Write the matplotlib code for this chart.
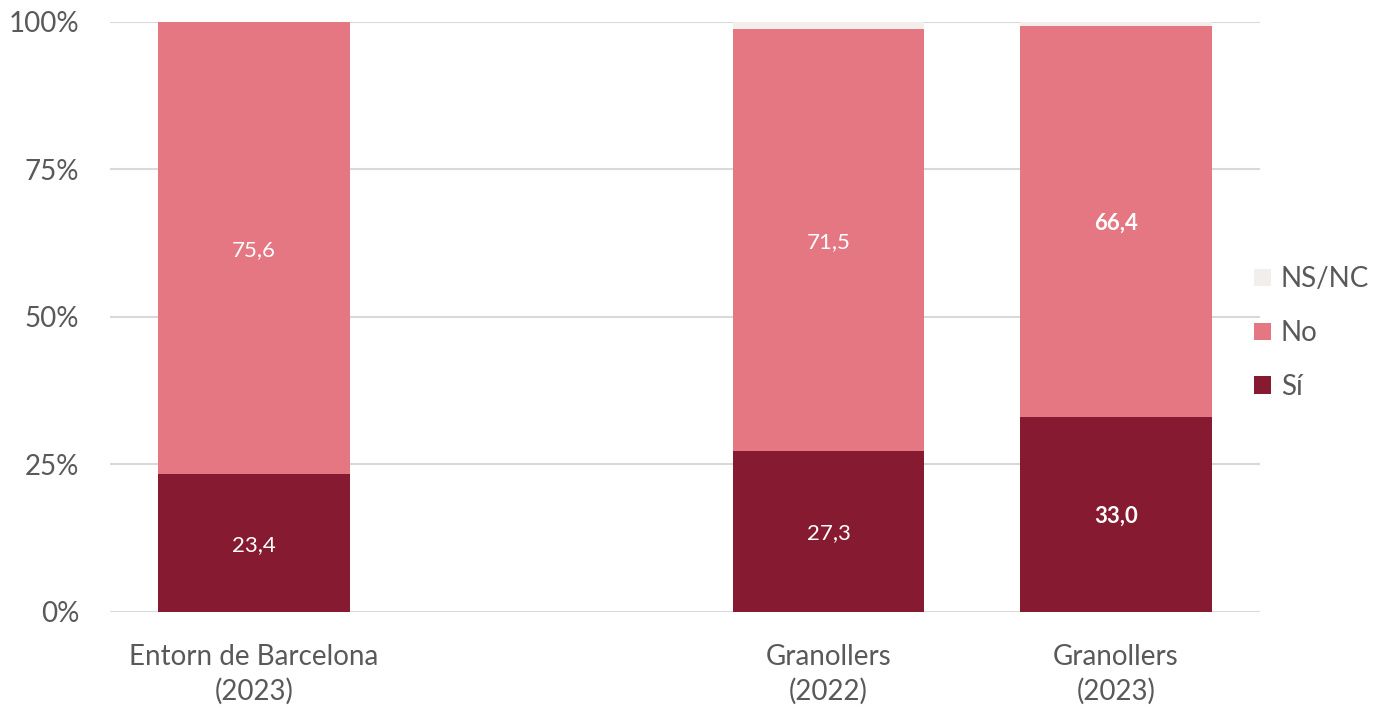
import matplotlib.pyplot as plt
import numpy as np

categories = ['Entorn de Barcelona\n(2023)', '', 'Granollers\n(2022)', 'Granollers\n(2023)']
si_vals = [23.4, 0, 27.3, 33.0]
no_vals = [76.6, 0, 71.5, 66.4]
nsnc_vals = [0.0, 0, 1.2, 0.6]
si_labels = ['23,4', '', '27,3', '33,0']
no_labels = ['75,6', '', '71,5', '66,4']
bold_bar = [False, False, False, True]

c_si = '#861A30'
c_no = '#E57783'
c_ns = '#F2EEEB'
grey = '#595959'

plt.rcParams['font.family'] = ['Lato', 'DejaVu Sans']

fig = plt.figure(figsize=(13.75, 7.09), dpi=100)
ax = fig.add_axes([0.08, 0.137, 0.836, 0.832])

x = np.arange(len(categories))
w = 0.667
si = np.array(si_vals)
no = np.array(no_vals)
ns = np.array(nsnc_vals)

b1 = ax.bar(x, si, w, color=c_si, label='Sí', zorder=3)
b2 = ax.bar(x, no, w, bottom=si, color=c_no, label='No', zorder=3)
b3 = ax.bar(x, ns, w, bottom=si + no, color=c_ns, label='NS/NC', zorder=3)

for i in range(len(categories)):
    if not si_labels[i]:
        continue
    fw = 'bold' if bold_bar[i] else 'normal'
    ax.text(x[i], si[i] / 2, si_labels[i], ha='center', va='center_baseline',
            color='white', fontsize=16, fontweight=fw, zorder=4)
    ax.text(x[i], si[i] + no[i] / 2, no_labels[i], ha='center', va='center_baseline',
            color='white', fontsize=16, fontweight=fw, zorder=4)

ax.set_xlim(-0.5, 3.5)
ax.set_ylim(0, 100)
ax.set_yticks([0, 25, 50, 75, 100])
ax.set_yticklabels(['0%', '25%', '50%', '75%', '100%'])
ax.set_xticks(x)
ax.set_xticklabels(categories, linespacing=1.35)
ax.tick_params(axis='both', length=0, labelsize=20, colors=grey)
ax.tick_params(axis='y', pad=22)
ax.tick_params(axis='x', pad=23)
ax.yaxis.grid(True, color='#D9D9D9', linewidth=1.5, zorder=0)
ax.set_axisbelow(True)
for s in ax.spines.values():
    s.set_visible(False)

handles = [b3, b2, b1]
leg = fig.legend(handles, ['NS/NC', 'No', 'Sí'], loc='center left',
                 bbox_to_anchor=(0.912, 0.53), frameon=False, fontsize=20,
                 handlelength=0.6, handleheight=0.6, handletextpad=0.36,
                 labelspacing=1.0, labelcolor=grey, borderpad=0,
                 borderaxespad=0)

fig.savefig('out.png', dpi=100)
